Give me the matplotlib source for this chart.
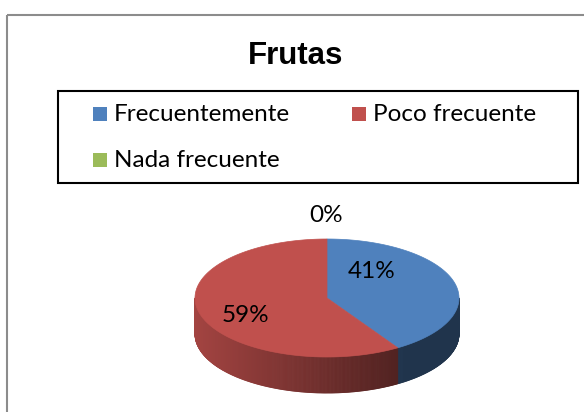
import numpy as np
import matplotlib
matplotlib.use("Agg")
import matplotlib.pyplot as plt
from matplotlib.patches import Rectangle, Polygon
from matplotlib.collections import PolyCollection
from matplotlib.colors import to_rgb

# data
categories = ["Frecuentemente", "Poco frecuente", "Nada frecuente"]
values = [41, 59, 0]
colors = ["#4F81BD", "#C0504D", "#9BBB59"]

TXT_FONT = ["Lato", "DejaVu Sans"]

fig = plt.figure(figsize=(5.84, 4.12), dpi=100)
ax = fig.add_axes([0, 0, 1, 1])
ax.set_xlim(0, 584)
ax.set_ylim(412, 0)
ax.axis("off")

# chart area border (runs off the right and bottom edges)
ax.add_patch(Rectangle((7, 15), 700, 500, fill=False, edgecolor="#8c8c8c", lw=1.5))

# title
ax.text(296, 56, "Frutas", ha="center", va="center", fontsize=22.5,
        fontweight="bold", family=["Liberation Sans", "DejaVu Sans"])

# legend box
ax.add_patch(Rectangle((58, 91), 520, 92, fill=False, edgecolor="black", lw=1.5))
leg_pos = [(93, 114), (352, 114), (93, 160)]
for (lx, ly), name, c in zip(leg_pos, categories, colors):
    ax.add_patch(Rectangle((lx, ly - 7), 14, 14, facecolor=c, edgecolor="none"))
    ax.text(lx + 21, ly, name, ha="left", va="center", fontsize=17.5, family=TXT_FONT)

# 3d pie
cx, cy, a, b, depth = 327, 298, 132, 59, 36
fracs = np.array(values, dtype=float) / sum(values)
starts = 90 - 360 * np.concatenate([[0], np.cumsum(fracs)[:-1]])
ends = starts - 360 * fracs


def ell(t):
    r = np.radians(t)
    return cx + a * np.cos(r), cy - b * np.sin(r)


# side walls, only the front half (angles between -180 and 0) is visible
quads, qcols = [], []
for s, e, f, c in zip(starts, ends, fracs, colors):
    if f == 0:
        continue
    lo, hi = max(e, -180), min(s, 0)
    if hi <= lo:
        lo, hi = max(e + 360, -180), min(s + 360, 0)
    if hi <= lo:
        continue
    ts = np.linspace(lo, hi, int((hi - lo) * 2) + 2)
    base = np.array(to_rgb(c))
    for t0, t1 in zip(ts[:-1], ts[1:]):
        x0, y0 = ell(t0)
        x1, y1 = ell(t1)
        tm = np.radians((t0 + t1) / 2)
        shade = np.clip(0.85 - 0.45 * (1 + np.cos(tm)) / 1.6, 0.4, 0.85)
        quads.append([(x0, y0), (x1, y1), (x1, y1 + depth), (x0, y0 + depth)])
        qcols.append(base * shade)
ax.add_collection(PolyCollection(quads, facecolors=qcols, edgecolors=qcols, lw=0.6))

# top faces
for s, e, f, c in zip(starts, ends, fracs, colors):
    if f == 0:
        continue
    ts = np.linspace(s, e, 200)
    xs, ys = ell(ts)
    pts = np.column_stack([np.r_[cx, xs], np.r_[cy, ys]])
    ax.add_patch(Polygon(pts, closed=True, facecolor=c, edgecolor=c, lw=0.5))

# percentage labels
lab_pos = [(372, 272), (245, 315), (326, 215)]
for (tx, ty), v in zip(lab_pos, values):
    ax.text(tx, ty, f"{v}%", ha="center", va="center", fontsize=17.5, family=TXT_FONT)

fig.savefig("out.png", dpi=100)
